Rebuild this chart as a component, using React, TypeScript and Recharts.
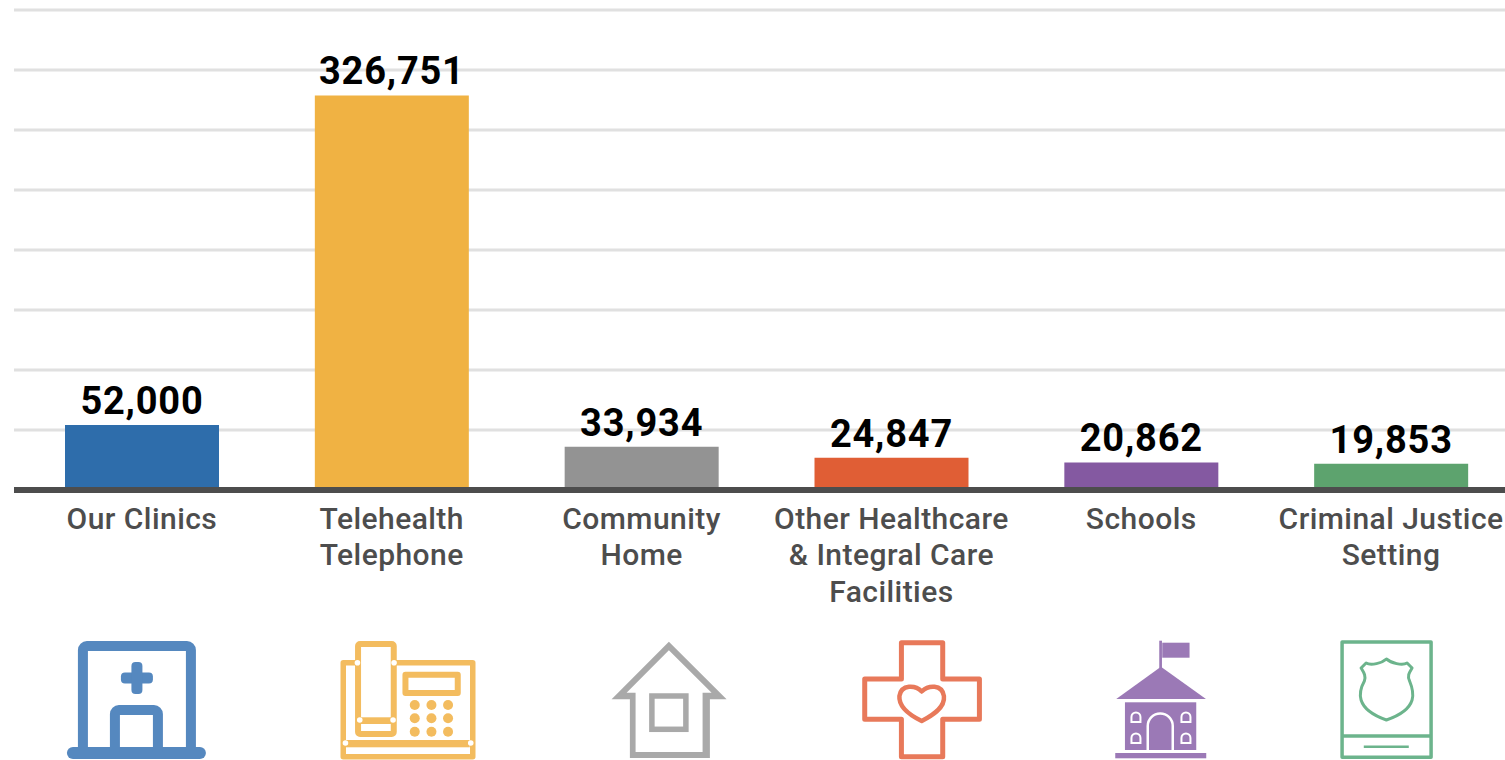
import { BarChart, Bar, XAxis, YAxis, CartesianGrid, Cell, LabelList } from "recharts";

const categories = ["Our Clinics", "Telehealth Telephone", "Community Home", "Other Healthcare & Integral Care Facilities", "Schools", "Criminal Justice Setting"];
const tickLines = [
  ["Our Clinics"],
  ["Telehealth", "Telephone"],
  ["Community", "Home"],
  ["Other Healthcare", "& Integral Care", "Facilities"],
  ["Schools"],
  ["Criminal Justice", "Setting"],
];
const visits = [52000, 326751, 33934, 24847, 20862, 19853];
const barColors = ["#2e6dab", "#f0b243", "#939393", "#e05e35", "#8459a1", "#5da36e"];

// the source's bars sit on the top edge of the thick baseline, a little above the gridline step
const domainFloor = -2083;
const gridValues = [0, 50000, 100000, 150000, 200000, 250000, 300000, 350000, 400000].map((v) => v + domainFloor);

const chartData = categories.map((name, i) => ({ name, visits: visits[i] }));

const FONT = "Roboto, sans-serif";

function ClinicIcon() {
  const c = "#5588bf";
  return (
    <g>
      <path d="M16 112V10a4 4 0 0 1 4-4H120a4 4 0 0 1 4 4V112" fill="none" stroke={c} strokeWidth={10} />
      <rect x={0} y={107} width={139} height={12} rx={6} fill={c} />
      <rect x={54} y={32.5} width={32} height={11} rx={4} fill={c} />
      <rect x={64.5} y={22} width={11} height={32} rx={4} fill={c} />
      <path d="M48 112V74a4 4 0 0 1 4-4H87a4 4 0 0 1 4 4V112" fill="none" stroke={c} strokeWidth={10} />
    </g>
  );
}

function PhoneIcon() {
  const c = "#f3bc5f";
  const keysX = [74, 90.7, 107.3];
  const keysY = [65, 78.3, 91.7];
  const joints = [[16.7, 22.7], [53.3, 22.7], [19, 80], [52.3, 80], [4.7, 103], [130, 103]];
  return (
    <g>
      <path d="M16 22.7H2.5V116.7H132V22.7H54" fill="none" stroke={c} strokeWidth={5.5} strokeLinejoin="round" />
      <rect x={4} y={100} width={125} height={7.3} fill={c} />
      <rect x={17.3} y={4} width={35.7} height={90} rx={2} fill="none" stroke={c} strokeWidth={6} />
      <rect x={19} y={77.3} width={33} height={6.7} fill={c} />
      <rect x={64.7} y={34.7} width={52.3} height={18.3} fill="none" stroke={c} strokeWidth={6} strokeLinejoin="round" />
      {keysY.map((y) => keysX.map((x) => <circle key={`${x}-${y}`} cx={x} cy={y} r={5} fill={c} />))}
      {joints.map(([x, y]) => <circle key={`${x}-${y}`} cx={x} cy={y} r={2.8} fill="#fff" />)}
    </g>
  );
}

function HomeIcon() {
  const c = "#a9a9a9";
  return (
    <g>
      <path
        fillRule="evenodd"
        fill={c}
        d="M0 59.3L57.3 1.7L115 59.3H98.3V118H18.3V59.3ZM57.3 10.3L15 52.7H24V112H91V52.7H100Z"
      />
      <rect x={40.3} y={56} width={34} height={33.3} fill="none" stroke={c} strokeWidth={5.5} />
    </g>
  );
}

function CareIcon() {
  const c = "#e8795a";
  return (
    <g fill="none" stroke={c} strokeWidth={5} strokeLinejoin="round">
      <path d="M38 2.7H79.3V39H116V79.3H79.3V116.7H38V79.3H1.3V39H38Z" />
      <path d="M58.3 51.5C52 45 38 44 36 56C35 68 48 76 58.3 81C68 76 82 68 80.5 56C78.5 44 65 45 58.3 51.5Z" strokeWidth={4.5} />
    </g>
  );
}

function SchoolIcon() {
  const c = "#9b79b6";
  const windows = [[20.7, 72], [70.7, 72], [20.7, 93], [70.7, 93]];
  return (
    <g>
      <rect x={44} y={0.7} width={2.7} height={29} fill={c} />
      <rect x={47} y={2.7} width={27.3} height={15} fill={c} />
      <path d="M45.7 26.7L90.7 59H1Z" fill={c} />
      <rect x={9.7} y={62.3} width={71.3} height={47.7} fill={c} />
      <rect x={0} y={113} width={91} height={5.3} fill={c} />
      <path d="M32.5 110V86a12.5 12.5 0 0 1 25 0V110" fill="none" stroke="#fff" strokeWidth={2.5} />
      {windows.map(([x, y]) => (
        <path key={`${x}-${y}`} d={`M${x - 4.5} ${y + 10}V${y + 5}a4.5 4.5 0 0 1 9 0V${y + 10}Z`} fill={c} stroke="#fff" strokeWidth={2} />
      ))}
    </g>
  );
}

function ShieldIcon() {
  const c = "#6cb48c";
  return (
    <g fill="none" stroke={c} strokeWidth={3.5} strokeLinejoin="round">
      <rect x={1} y={2} width={89} height={115.3} />
      <path d="M1 96H90" />
      <path d="M22.7 106.7H67.7" strokeWidth={2.5} />
      <path
        strokeWidth={3}
        d="M45.3 19C41 23 30 26 25 23L20 28C23 33 25 36 23.3 41C20 47 18 53 20 60C23 70 34 76 45.3 80C57 76 68 70 71 60C73 53 71 47 68.5 41C66 36 68 33 71 28L66 23C61 26 50 23 45.3 19Z"
      />
    </g>
  );
}

const icons = [
  { Icon: ClinicIcon, dx: -75 },
  { Icon: PhoneIcon, dx: -51 },
  { Icon: HomeIcon, dx: -30 },
  { Icon: CareIcon, dx: -28 },
  { Icon: SchoolIcon, dx: -26 },
  { Icon: ShieldIcon, dx: -50 },
];

function CategoryTick({ x, index }: { x: number; index: number }) {
  const { Icon, dx } = icons[index];
  return (
    <g>
      <text x={x} textAnchor="middle" fontFamily={FONT} fontWeight={500} fontSize={30} letterSpacing={0.45} fill="#4d4d4d">
        {tickLines[index].map((line, i) => (
          <tspan key={line} x={x} y={528.5 + i * 36.5}>
            {line}
          </tspan>
        ))}
      </text>
      <g transform={`translate(${x + dx},640)`}>
        <Icon />
      </g>
    </g>
  );
}

export default function App() {
  return (
    <div style={{ position: "absolute", left: 0, top: 0, width: 1505, height: 760, overflow: "hidden", background: "#fff" }}>
      <BarChart width={1520} height={760} data={chartData} margin={{ top: 10, right: 4, left: 14, bottom: 0 }}>
        <CartesianGrid horizontal vertical={false} stroke="#e0e0e0" strokeWidth={3} />
        <XAxis
          dataKey="name"
          height={270}
          interval={0}
          padding={{ left: 3, right: 0 }}
          axisLine={{ stroke: "#4d4d4d", strokeWidth: 6 }}
          tickLine={false}
          tick={(props: any) => <CategoryTick x={props.x} index={props.index} />}
        />
        <YAxis hide domain={[domainFloor, 400000 + domainFloor]} ticks={gridValues} />
        <Bar dataKey="visits" barSize={154} isAnimationActive={false}>
          {chartData.map((d, i) => (
            <Cell key={d.name} fill={barColors[i]} />
          ))}
          <LabelList
            dataKey="visits"
            position="top"
            offset={11}
            formatter={(v: any) => Number(v).toLocaleString("en-US")}
            style={{ fontFamily: FONT, fontWeight: 700, fontSize: 38, letterSpacing: 0.8, fill: "#000" }}
          />
        </Bar>
      </BarChart>
    </div>
  );
}
